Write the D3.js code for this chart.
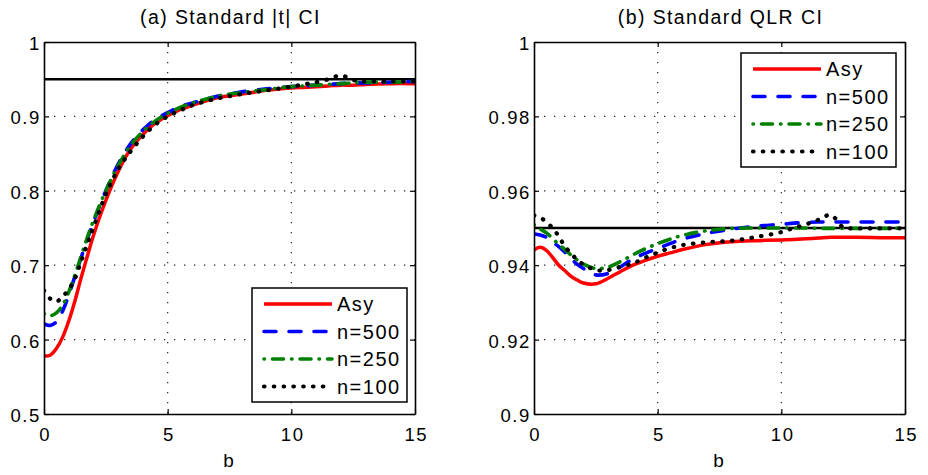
<!DOCTYPE html>
<html>
<head>
<meta charset="utf-8">
<script src="https://cdn.jsdelivr.net/npm/d3@7/dist/d3.min.js"></script>
<style>
  html, body { margin: 0; padding: 0; background: #fff; }
  svg { display: block; font-family: "Liberation Sans", Arial, Helvetica, sans-serif; }
</style>
</head>
<body>
<svg id="chart" width="928" height="475"></svg>
<script>
// ---------------- DATA ----------------
const bGrid = [0, 0.25, 0.5, 0.75, 1, 1.25, 1.5, 1.75, 2, 2.5, 3, 3.5, 4, 4.5, 5, 5.5, 6, 7, 8, 9, 10, 10.5, 11, 11.5, 12, 12.5, 13, 14, 15];

const seriesNames = ["Asy", "n=500", "n=250", "n=100"];

// Panel (a): Standard |t| CI
const tAsy  = [0.578, 0.579, 0.588, 0.603, 0.625, 0.652, 0.683, 0.712, 0.740, 0.787, 0.826, 0.856, 0.876, 0.891, 0.901, 0.909, 0.915, 0.925, 0.930, 0.935, 0.938, 0.939, 0.940, 0.941, 0.942, 0.942, 0.943, 0.944, 0.944];
const tN500 = [0.621, 0.619, 0.624, 0.638, 0.660, 0.685, 0.710, 0.735, 0.758, 0.800, 0.836, 0.863, 0.882, 0.896, 0.905, 0.913, 0.918, 0.927, 0.933, 0.937, 0.940, 0.941, 0.942, 0.943, 0.944, 0.945, 0.945, 0.946, 0.947];
const tN250 = [0.635, 0.632, 0.636, 0.646, 0.664, 0.687, 0.712, 0.737, 0.760, 0.800, 0.834, 0.861, 0.880, 0.894, 0.904, 0.912, 0.918, 0.927, 0.932, 0.936, 0.940, 0.941, 0.942, 0.943, 0.944, 0.945, 0.946, 0.946, 0.947];
const tN100 = [0.666, 0.655, 0.651, 0.658, 0.667, 0.682, 0.705, 0.728, 0.751, 0.795, 0.829, 0.853, 0.873, 0.889, 0.900, 0.908, 0.915, 0.924, 0.930, 0.935, 0.940, 0.943, 0.946, 0.950, 0.955, 0.949, 0.947, 0.947, 0.947];

// Panel (b): Standard QLR CI
const qAsy  = [0.9441, 0.9448, 0.9440, 0.9421, 0.9400, 0.9385, 0.9370, 0.9360, 0.9352, 0.9350, 0.9365, 0.9383, 0.9400, 0.9413, 0.9424, 0.9433, 0.9442, 0.9456, 0.9463, 0.9466, 0.9468, 0.9469, 0.9471, 0.9473, 0.9475, 0.9475, 0.9475, 0.9474, 0.9474];
const qN500 = [0.9484, 0.9481, 0.9475, 0.9462, 0.9450, 0.9435, 0.9418, 0.9402, 0.9391, 0.9374, 0.9378, 0.9396, 0.9417, 0.9432, 0.9445, 0.9458, 0.9470, 0.9486, 0.9497, 0.9505, 0.9510, 0.9513, 0.9515, 0.9516, 0.9516, 0.9516, 0.9516, 0.9516, 0.9516];
const qN250 = [0.9509, 0.9497, 0.9487, 0.9472, 0.9456, 0.9442, 0.9427, 0.9414, 0.9403, 0.9391, 0.9395, 0.9410, 0.9428, 0.9444, 0.9458, 0.9470, 0.9480, 0.9493, 0.9499, 0.9500, 0.9500, 0.9500, 0.9500, 0.9499, 0.9499, 0.9499, 0.9499, 0.9499, 0.9499];
const qN100 = [0.9534, 0.9528, 0.9516, 0.9500, 0.9478, 0.9450, 0.9432, 0.9414, 0.9402, 0.9387, 0.9387, 0.9396, 0.9405, 0.9420, 0.9434, 0.9446, 0.9454, 0.9462, 0.9466, 0.9476, 0.9489, 0.9500, 0.9510, 0.9522, 0.9535, 0.9502, 0.9499, 0.9499, 0.9499];

const nominalLevel = 0.95;

const xTicks = [0, 5, 10, 15];
const xTickLabels = ["0", "5", "10", "15"];
const tYTicks = [0.5, 0.6, 0.7, 0.8, 0.9, 1];
const tYTickLabels = ["0.5", "0.6", "0.7", "0.8", "0.9", "1"];
const qYTicks = [0.9, 0.92, 0.94, 0.96, 0.98, 1];
const qYTickLabels = ["0.9", "0.92", "0.94", "0.96", "0.98", "1"];

const titles = ["(a) Standard |t| CI", "(b) Standard QLR CI"];
const xLabel = "b";

// ---------------- STYLES ----------------
const styles = [
  { color: "#ff0000", dash: null, width: 3.5, cap: "butt" },
  { color: "#0000ff", dash: "12,13", width: 3.6, cap: "round" },
  { color: "#008000", dash: "0.5,8,11,8", width: 3.6, cap: "round" },
  { color: "#000000", dash: "0.5,9.3", width: 4.2, cap: "round" }
];

const svg = d3.select("#chart");

const panels = [
  { left: 44, title: titles[0], yDomain: [0.5, 1], yTicks: tYTicks, yLabels: tYTickLabels,
    series: [tAsy, tN500, tN250, tN100], legend: { x: 252, y: 288 } },
  { left: 534, title: titles[1], yDomain: [0.9, 1], yTicks: qYTicks, yLabels: qYTickLabels,
    series: [qAsy, qN500, qN250, qN100], legend: { x: 741, y: 53 } }
];

const plotTop = 42, plotH = 372, plotW = 371;

panels.forEach((p, pi) => {
  const x = d3.scaleLinear().domain([0, 15]).range([p.left, p.left + plotW]);
  const y = d3.scaleLinear().domain(p.yDomain).range([plotTop + plotH, plotTop]);
  const g = svg.append("g");

  const clipId = "clip" + pi;
  svg.append("clipPath").attr("id", clipId)
    .append("rect").attr("x", p.left).attr("y", plotTop).attr("width", plotW).attr("height", plotH);

  // grid
  g.append("g").selectAll("line").data(xTicks.slice(1, -1)).join("line")
    .attr("x1", d => x(d)).attr("x2", d => x(d)).attr("y1", plotTop).attr("y2", plotTop + plotH)
    .attr("stroke", "#222").attr("stroke-width", 1.2).attr("stroke-dasharray", "1.3,8.7");
  g.append("g").selectAll("line").data(p.yTicks.slice(1, -1)).join("line")
    .attr("y1", d => y(d)).attr("y2", d => y(d)).attr("x1", p.left).attr("x2", p.left + plotW)
    .attr("stroke", "#222").attr("stroke-width", 1.2).attr("stroke-dasharray", "1.3,8.7");

  // nominal level
  g.append("line")
    .attr("x1", x(0)).attr("x2", x(15)).attr("y1", y(nominalLevel)).attr("y2", y(nominalLevel))
    .attr("stroke", "#000").attr("stroke-width", 2.6);

  // series lines
  const lineGen = d3.line().x((d, i) => x(bGrid[i])).y(d => y(d)).curve(d3.curveCatmullRom.alpha(0.5));
  p.series.forEach((vals, si) => {
    const st = styles[si];
    g.append("path").datum(vals)
      .attr("clip-path", `url(#${clipId})`)
      .attr("d", lineGen)
      .attr("fill", "none")
      .attr("stroke", st.color)
      .attr("stroke-width", st.width)
      .attr("stroke-linecap", st.cap)
      .attr("stroke-linejoin", "round")
      .attr("stroke-dasharray", st.dash);
  });

  // axes (box with inward ticks)
  const axB = d3.axisBottom(x).tickValues(xTicks).tickSizeInner(-5).tickSizeOuter(0).tickFormat((d, i) => xTickLabels[i]);
  const axT = d3.axisTop(x).tickValues(xTicks).tickSizeInner(-5).tickSizeOuter(0).tickFormat("");
  const axL = d3.axisLeft(y).tickValues(p.yTicks).tickSizeInner(-5).tickSizeOuter(0).tickFormat((d, i) => p.yLabels[i]);
  const axR = d3.axisRight(y).tickValues(p.yTicks).tickSizeInner(-5).tickSizeOuter(0).tickFormat("");

  const gb = g.append("g").attr("transform", `translate(0,${plotTop + plotH})`).call(axB);
  const gt = g.append("g").attr("transform", `translate(0,${plotTop})`).call(axT);
  const gl = g.append("g").attr("transform", `translate(${p.left},0)`).call(axL);
  const gr = g.append("g").attr("transform", `translate(${p.left + plotW},0)`).call(axR);
  [gb, gt, gl, gr].forEach(a => {
    a.attr("font-family", null).attr("font-size", null);
    a.selectAll(".domain").attr("stroke", "#000").attr("stroke-width", 1.6);
    a.selectAll(".tick line").attr("stroke", "#000").attr("stroke-width", 1.2);
  });
  gb.selectAll(".tick text")
    .attr("y", 14).attr("dy", "0.71em")
    .style("font-size", "18.5px").style("letter-spacing", "1.6px")
    .attr("dx", "0.8px")
    .attr("fill", "#000");
  gl.selectAll(".tick text")
    .attr("x", -3).attr("dy", "0.4em")
    .style("font-size", "18.5px").style("letter-spacing", "1.6px")
    .attr("fill", "#000");

  // title
  svg.append("text")
    .attr("x", p.left + plotW / 2 + 1).attr("y", 24)
    .attr("text-anchor", "middle")
    .style("font-size", "19.5px").style("letter-spacing", "1.4px")
    .text(p.title);

  // x label
  svg.append("text")
    .attr("x", p.left + plotW / 2 - 1).attr("y", 467)
    .attr("text-anchor", "middle")
    .style("font-size", "19px")
    .text(xLabel);

  // legend
  const lg = svg.append("g").attr("transform", `translate(${p.legend.x},${p.legend.y})`);
  lg.append("rect").attr("x", 0).attr("y", 0).attr("width", 155).attr("height", 114)
    .attr("fill", "#fff").attr("stroke", "#000").attr("stroke-width", 1.5);
  seriesNames.forEach((name, si) => {
    const st = styles[si];
    const yy = 16 + si * 27.5;
    lg.append("line").attr("x1", 12).attr("x2", 80).attr("y1", yy).attr("y2", yy)
      .attr("stroke", st.color).attr("stroke-width", st.width)
      .attr("stroke-linecap", st.cap).attr("stroke-dasharray", st.dash);
    lg.append("text").attr("x", 85).attr("y", yy).attr("dy", "0.36em")
      .style("font-size", "20px").style("letter-spacing", "1.5px")
      .text(name);
  });
});
</script>
</body>
</html>
